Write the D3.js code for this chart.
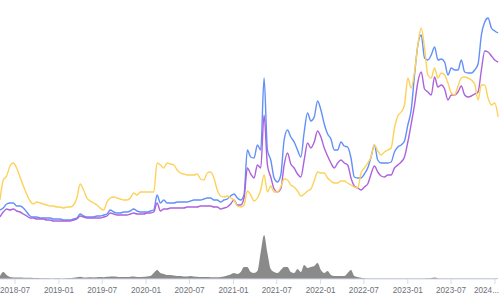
<!DOCTYPE html>
<html>
<head>
	<meta charset="utf-8">
	<title>Price lines with volume</title>
	<script src="https://cdn.jsdelivr.net/npm/d3@7"></script>
	<style>
		body { margin: 0; background: #fff; }
		svg { display: block; }
		.tick-label { font-family: "Liberation Sans", Arial, sans-serif; font-size: 8.2px; fill: #6e7079; }
	</style>
</head>
<body>
<div id="chart"></div>

<script type="text/javascript">
	// first sample date and the gap between samples (days)
	let startDate = "2018-04-29";
	let stepDays = 14;

	// tick labels shown on the time axis
	let tickLabels = ["2018-07", "2019-01", "2019-07", "2020-01", "2020-07", "2021-01",
		"2021-07", "2022-01", "2022-07", "2023-01", "2023-07", "2024-01"];

	let seriesBlue = [10, 11, 13, 13.5, 13.5, 12, 12, 11, 9, 7, 6.5, 6.5, 6, 6, 6, 6, 5.5, 5.5, 5.5, 5,
		5, 5, 5.5, 6, 8, 7, 6.5, 6.5, 6.5, 7, 7, 7.5, 8, 10, 9, 8.5, 8.5, 9, 9, 9.5,
		10.5, 9.5, 9, 9, 9, 9.5, 10, 17.5, 13.5, 15, 13.5, 13.5, 13.5, 14, 14, 14, 14, 14.5, 15, 15,
		15, 15.5, 16, 16, 15, 15, 14, 15, 15.5, 17, 18, 16, 15, 17.5, 40, 36.5, 36, 42.5, 40, 76,
		40, 35, 26, 24, 27.5, 45, 50, 46.5, 44, 40, 36.5, 49, 58.5, 54.5, 56.5, 64.5, 60, 53, 48, 45.5,
		40, 40, 44, 42, 41.5, 36, 26.5, 26, 26, 28, 31, 36.5, 42.5, 35, 33.5, 33.5, 33.5, 34, 39, 41.5,
		42.5, 44.5, 52.5, 60, 77.5, 92.5, 97.5, 86, 85, 87.5, 91.5, 85, 85.5, 84, 77.5, 81, 80, 80, 85, 79,
		78.5, 78.5, 80, 83, 97.5, 104, 106, 101, 99.5, 98.5];

	let seriesPurple = [6.5, 9, 10.5, 10, 10.5, 9.5, 9, 8, 7, 6, 6, 5.5, 5.5, 5.5, 5, 5, 4.5, 4.5, 4.5, 4.5,
		4.5, 4.5, 5, 5.5, 7, 6.5, 6, 6, 6, 6, 6, 6.5, 7, 8.5, 8, 7.5, 7.5, 7.5, 7.5, 8,
		8.5, 8, 8, 8, 8.5, 8.5, 9, 13.5, 9.5, 10.5, 10.5, 11, 11, 11, 11, 11, 11.5, 11.5, 11.5, 11.5,
		12, 12, 12, 12, 11.5, 11.5, 10.5, 11, 11.5, 13, 15, 12.5, 12.5, 16, 31, 28, 26, 32.5, 31, 57.5,
		32.5, 26.5, 20.5, 19, 20.5, 32.5, 38.5, 33, 31, 28, 26.5, 35, 43.5, 41, 44, 49.5, 46.5, 41, 37, 33.5,
		31, 33.5, 35, 33.5, 32.5, 26, 22, 21, 20, 21.5, 23, 28, 32, 29, 27, 26.5, 27.5, 27.5, 31, 32.5,
		34, 36.5, 44, 53, 62.5, 74, 79, 70.5, 69, 67.5, 76.5, 71.5, 72.5, 70.5, 65, 67.5, 67.5, 69, 72, 67.5,
		66.5, 67, 68, 69, 80, 89.5, 89, 87, 85, 84];

	let seriesYellow = [15, 25, 27, 32, 33.5, 31, 26.5, 22, 18, 14.5, 13, 14, 13.5, 13, 12.5, 12, 12, 11.5, 11.5, 11,
		11.5, 11.5, 12.5, 16, 23, 20, 16, 14.5, 13.5, 12.5, 11, 10, 14, 16, 16.5, 16, 15.5, 15, 15, 16,
		18.5, 17.5, 19, 19, 19, 19, 19, 33.5, 32.5, 31, 33.5, 33, 32.5, 30, 28.5, 28, 27.5, 27.5, 27.5, 28,
		25.5, 25, 28.5, 29, 26, 20, 17, 16.5, 17, 16, 15, 12, 11.5, 12.5, 19.5, 17.5, 14.5, 16, 20, 27.5,
		19, 22, 19, 19, 21.5, 25.5, 25, 22.5, 21.5, 19.5, 17, 18, 19.5, 20.5, 24.5, 29, 28.5, 28.5, 26, 24.5,
		23.5, 23.5, 24.5, 24.5, 23.5, 22.5, 21.5, 21, 28.5, 31, 33.5, 36.5, 42.5, 39.5, 37.5, 39, 40, 41, 51, 57,
		59, 62.5, 76, 71, 79, 92.5, 101, 91, 77.5, 76, 81, 76, 78.5, 77.5, 73.5, 68.5, 67.5, 72, 76, 76.5,
		76, 75, 73, 65, 72.5, 72.5, 66, 62.5, 63.5, 56.5];

	let volume = [3, 7, 4, 2, 1.5, 1.5, 1.5, 1.3, 1.2, 1.2, 1, 1, 0.8, 0.8, 0.7, 0.6, 0.6, 0.8, 0.6, 0.6,
		0.8, 0.9, 1.2, 1.8, 2.2, 1.6, 1.6, 1.7, 1.6, 1.8, 2, 1.8, 2.2, 2.6, 2.4, 2.2, 2, 2, 1.9, 2.2,
		2.5, 2, 2, 2.2, 2.5, 3, 6, 9, 6, 5, 4, 4, 3.5, 3, 3, 2.5, 2.5, 3, 2.5, 2.2,
		2, 2, 2, 1.8, 1.8, 1.8, 2, 2.5, 3.5, 4.5, 6, 5, 7, 12, 12, 7, 6, 8, 27, 44,
		26, 10, 7, 6, 9, 12, 12, 7, 6, 10, 7, 14, 11, 12, 13, 16, 9, 6, 8, 4,
		3, 3, 3, 3, 6, 9, 3, 2, 1.2, 0.8, 0.6, 0.6, 0.6, 0.5, 0.6, 0.6, 0.5, 0.5, 0.6, 0.6,
		0.6, 0.5, 0.6, 0.6, 0.6, 0.6, 0.5, 0.6, 0.7, 1, 1.5, 0.8, 0.6, 0.5, 0.5, 0.5, 0.6, 0.5, 0.5, 0.5,
		0.5, 0.5, 0.6, 0.6, 0.5, 0.6, 0.6, 0.5, 0.6, 0.6];

	let width = 500, height = 300;
	let parseDay = d3.utcParse("%Y-%m-%d");
	let parseMonth = d3.utcParse("%Y-%m");
	let start = parseDay(startDate);
	let dates = volume.map(function(_, i){ return d3.utcDay.offset(start, i*stepDays); });

	let svg = d3.select("#chart").append("svg").attr("width", width).attr("height", height);

	// x: 2018-07 tick sits at 15px, 2024-01 tick at 495px
	let x = d3.scaleUtc()
		.domain([parseMonth("2018-07"), parseMonth("2024-01")])
		.range([15, 495]);

	let yPrice = d3.scaleLinear().domain([0, 115]).range([230, 0]); // upper grid
	let yVol = d3.scaleLinear().domain([0, 50]).range([279, 229]); // lower grid

	// volume area
	svg.append("path")
		.datum(volume)
		.attr("fill", "#8a8a8a")
		.attr("d", d3.area()
			.x(function(d, i){ return x(dates[i]); })
			.y0(yVol(0))
			.y1(function(d){ return yVol(d); })
			.curve(d3.curveMonotoneX));

	// the three price lines
	let lines = [
		{ values: seriesBlue, color: "#6190f8" },
		{ values: seriesPurple, color: "#ac62dc" },
		{ values: seriesYellow, color: "#fdd25a" }
	];
	let lineGen = d3.line()
		.x(function(d, i){ return x(dates[i]); })
		.y(function(d){ return yPrice(d); })
		.curve(d3.curveMonotoneX);

	lines.forEach(function(s){
		svg.append("path")
			.datum(s.values)
			.attr("fill", "none")
			.attr("stroke", s.color)
			.attr("stroke-width", 1.4)
			.attr("stroke-linejoin", "round")
			.attr("d", lineGen);
	});

	// bottom time axis
	let axis = svg.append("g").attr("transform", "translate(0," + yVol(0) + ")");
	axis.append("line")
		.attr("x1", 0).attr("x2", 497)
		.attr("stroke", "#d6dce8").attr("stroke-width", 1);

	tickLabels.forEach(function(lbl){
		let tx = x(parseMonth(lbl));
		axis.append("line")
			.attr("x1", tx).attr("x2", tx)
			.attr("y1", 0).attr("y2", 5)
			.attr("stroke", "#d6dce8");
		let t = axis.append("text")
			.attr("class", "tick-label")
			.attr("x", tx).attr("y", 14)
			.attr("text-anchor", "middle")
			.text(lbl);
		// label runs off the right edge -> cut it like echarts does
		if (tx + t.node().getComputedTextLength()/2 > width) {
			t.text(lbl.slice(0, 4) + "...").attr("text-anchor", "end").attr("x", width - 1);
		}
	});
</script>
</body>
</html>
